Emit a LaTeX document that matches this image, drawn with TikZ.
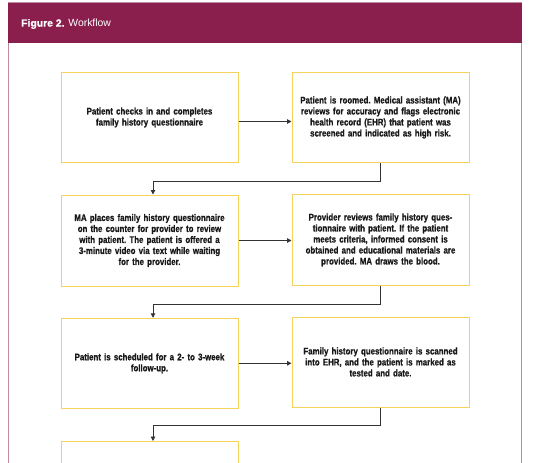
\documentclass[tikz,border=0pt]{standalone}
\usepackage{fontspec}
\setmainfont{Liberation Sans}
\newfontfamily\boxfont[FakeStretch=0.82,FakeBold=0.8]{Liberation Sans}
\newfontfamily\headfont[FakeBold=0.8]{Liberation Sans}
\usetikzlibrary{arrows.meta}
\definecolor{banner}{HTML}{8A1F4E}
\definecolor{frameclr}{HTML}{C08AA2}
\definecolor{boxclr}{HTML}{F3D35A}
\definecolor{lineclr}{HTML}{333333}
\tikzset{
  stepbox/.style={draw=boxclr, line width=1pt, fill=white, minimum width=177pt, minimum height=90pt, inner sep=0pt, text width=172pt, align=center, font=\frenchspacing\boxfont\bfseries\fontsize{9.6}{11}\selectfont, text=black!90},
  flow/.style={draw=lineclr, line width=0.9pt, -{Triangle[length=4.5pt,width=4.5pt]}},
}
\begin{document}
\begin{tikzpicture}[x=1pt,y=-1pt]
\useasboundingbox (0,0) rectangle (534,462);
\begin{scope}
\clip (0,0) rectangle (534,462);
\draw[frameclr, line width=1pt, fill=white] (8,3) rectangle (521,480);
\fill[banner] (8,3) rectangle (521.5,43);
\end{scope}
\node[anchor=west, text=white, font=\fontsize{10.4}{12}\selectfont, inner sep=0pt] (title) at (21,24) {{\headfont\bfseries Figure 2.} Workflow};

\node[stepbox] (b1) at (149.5,117.5) {Patient checks in and completes\\family history questionnaire};
\node[stepbox] (b2) at (380.5,117.5) {Patient is roomed. Medical assistant (MA)\\reviews for accuracy and flags electronic\\health record (EHR) that patient was\\screened and indicated as high risk.};
\node[stepbox, minimum height=91pt] (b3) at (149.5,240.5) {MA places family history questionnaire\\on the counter for provider to review\\with patient. The patient is offered a\\3-minute video via text while waiting\\for the provider.};
\node[stepbox, minimum height=91pt] (b4) at (380.5,240) {Provider reviews family history ques-\\tionnaire with patient. If the patient\\meets criteria, informed consent is\\obtained and educational materials are\\provided. MA draws the blood.\\[5pt]};
\node[stepbox] (b5) at (149.5,363.3) {Patient is scheduled for a 2- to 3-week\\follow-up.};
\node[stepbox] (b6) at (380.5,362) {Family history questionnaire is scanned\\into EHR, and the patient is marked as\\tested and date.\\[8pt]};
\begin{scope}
\clip (0,0) rectangle (534,462);
\node[stepbox, anchor=north] (b7) at (149.5,441) {};
\end{scope}

\coordinate (c2) at (153,181);
\coordinate (c4) at (153,304);
\coordinate (c6) at (153,425.5);

\draw[flow] (b1.east |- 0,121.5) -- (b2.west |- 0,121.5);
\draw[flow] (b2.south) |- (c2) -- (b3.north -| c2);
\draw[flow] (b3.east) -- (b4.west |- b3.east);
\draw[flow] (b4.south) |- (c4) -- (b5.north -| c4);
\draw[flow] (b5.east) -- (b6.west |- b5.east);
\draw[flow] (b6.south) |- (c6) -- (b7.north -| c6);
\end{tikzpicture}
\end{document}
